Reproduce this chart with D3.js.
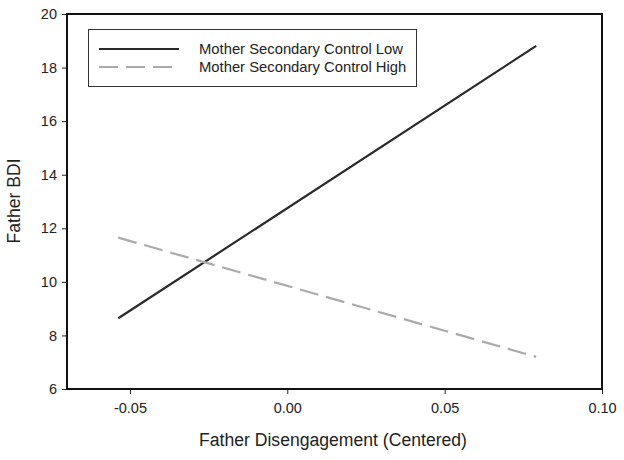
<!DOCTYPE html>
<html>
<head>
<meta charset="utf-8">
<script src="https://cdn.jsdelivr.net/npm/d3@7"></script>
<style>
  html, body { margin: 0; padding: 0; background: #fff; }
  svg { display: block; font-family: "Liberation Sans", Arial, sans-serif; }
</style>
</head>
<body>
<svg id="chart" width="624" height="460"></svg>
<script>
// ---- data ----
const xValues = [-0.0537, 0.0791];
const lowValues = [8.64, 18.81];
const highValues = [11.65, 7.20];
const seriesNames = ["Mother Secondary Control Low", "Mother Secondary Control High"];
const xTicks = [-0.05, 0.00, 0.05, 0.10];
const yTicks = [6, 8, 10, 12, 14, 16, 18, 20];
const xLabel = "Father Disengagement (Centered)";
const yLabel = "Father BDI";

// ---- layout ----
const svg = d3.select("#chart");
const mLeft = 67, mRight = 602, mTop = 14, mBottom = 389;

const x = d3.scaleLinear().domain([-0.07, 0.10]).range([mLeft, mRight]);
const y = d3.scaleLinear().domain([6, 20]).range([mBottom, mTop]);

const fmtX = d => d3.format(".2f")(d).replace("\u2212", "-");

// axes
const xAxis = svg.append("g").attr("transform", `translate(0,${mBottom})`)
  .call(d3.axisBottom(x).tickValues(xTicks).tickFormat(fmtX).tickSize(5).tickPadding(9).tickSizeOuter(0));
const yAxis = svg.append("g").attr("transform", `translate(${mLeft},0)`)
  .call(d3.axisLeft(y).tickValues(yTicks).tickFormat(d3.format("d")).tickSize(5).tickPadding(5).tickSizeOuter(0));
[xAxis, yAxis].forEach(g => {
  g.select(".domain").remove();
  g.selectAll(".tick line").attr("stroke", "#222").attr("stroke-width", 1);
  g.selectAll(".tick text").attr("fill", "#222").style("font-size", "14.5px")
    .style("font-family", "'Liberation Sans', Arial, sans-serif");
});

// frame
svg.append("rect")
  .attr("x", mLeft).attr("y", mTop)
  .attr("width", mRight - mLeft).attr("height", mBottom - mTop)
  .attr("fill", "none").attr("stroke", "#111").attr("stroke-width", 2);

// lines
const line = d3.line().x(d => x(d[0])).y(d => y(d[1]));
svg.append("path")
  .datum(xValues.map((v, i) => [v, lowValues[i]]))
  .attr("d", line).attr("fill", "none")
  .attr("stroke", "#2a2a2a").attr("stroke-width", 2.2);
svg.append("path")
  .datum(xValues.map((v, i) => [v, highValues[i]]))
  .attr("d", line).attr("fill", "none")
  .attr("stroke", "#aaa").attr("stroke-width", 2.2)
  .attr("stroke-dasharray", "19,8");

// legend
const lg = svg.append("g");
lg.append("rect").attr("x", 88.5).attr("y", 29.5).attr("width", 328).attr("height", 57)
  .attr("fill", "#fff").attr("stroke", "#333").attr("stroke-width", 1);
lg.append("line").attr("x1", 99).attr("x2", 179).attr("y1", 49).attr("y2", 49)
  .attr("stroke", "#2a2a2a").attr("stroke-width", 2.2);
lg.append("line").attr("x1", 99).attr("x2", 175).attr("y1", 67).attr("y2", 67)
  .attr("stroke", "#aaa").attr("stroke-width", 2.2).attr("stroke-dasharray", "19,8");
lg.append("text").attr("x", 199).attr("y", 49).attr("dy", "0.35em")
  .attr("fill", "#222").style("font-size", "14.8px").text(seriesNames[0]);
lg.append("text").attr("x", 199).attr("y", 67).attr("dy", "0.35em")
  .attr("fill", "#222").style("font-size", "14.8px").text(seriesNames[1]);

// axis titles
svg.append("text").attr("x", 333).attr("y", 440).attr("dy", "0.35em")
  .attr("text-anchor", "middle").attr("fill", "#222").style("font-size", "17.6px").text(xLabel);
svg.append("text").attr("transform", `translate(14,201) rotate(-90)`)
  .attr("dy", "0.35em").attr("text-anchor", "middle").attr("fill", "#222")
  .style("font-size", "17.6px").text(yLabel);
</script>
</body>
</html>
